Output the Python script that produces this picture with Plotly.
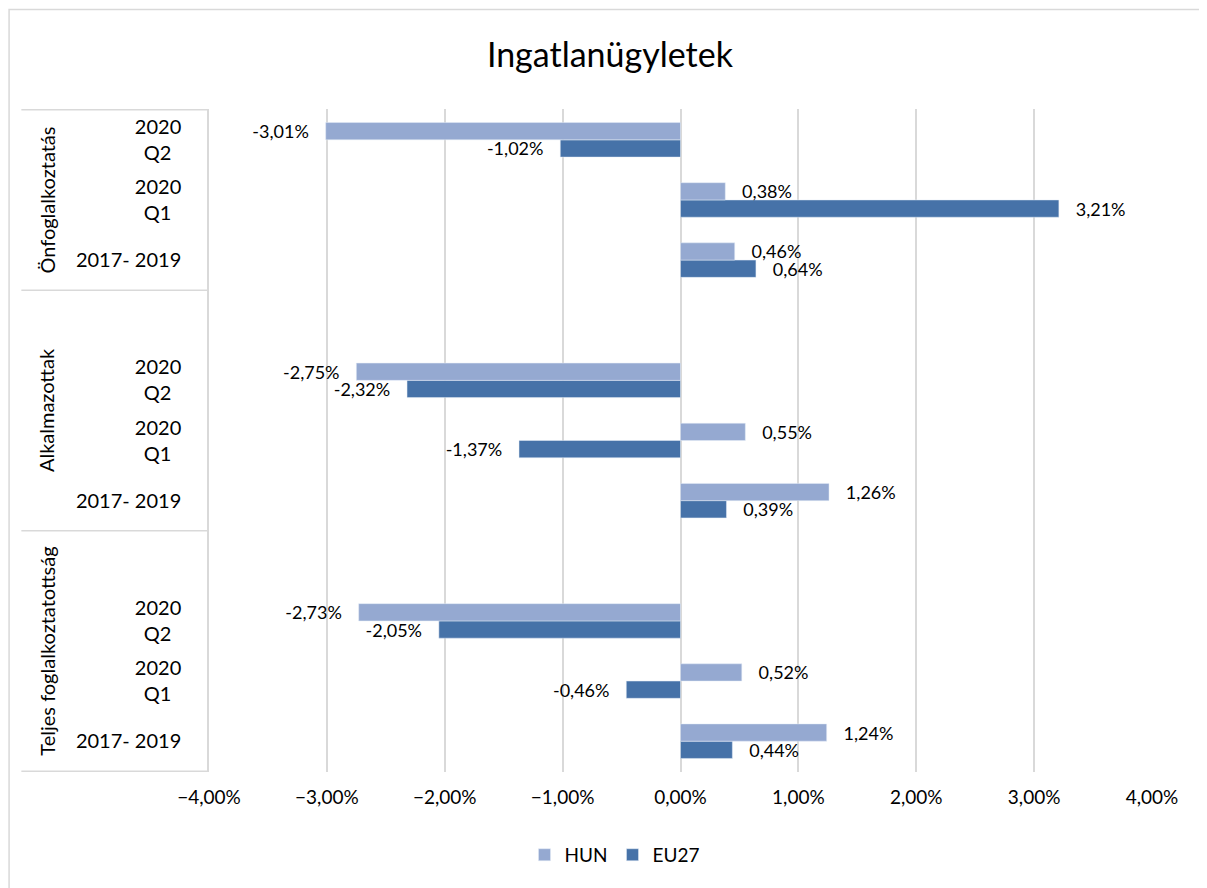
import plotly.graph_objects as go

# Categories, bottom to top (blank slots separate the groups, as in the source chart)
groups = ["Teljes foglalkoztatottság", "Alkalmazottak", "Önfoglalkoztatás"]
periods = ["2017- 2019", "2020<br>Q1\u2002", "2020<br>Q2\u2002"]

# Values in percent, per group, in the order of `periods`
hun_teljes = [1.24, 0.52, -2.73]
hun_alk = [1.26, 0.55, -2.75]
hun_onf = [0.46, 0.38, -3.01]

eu_teljes = [0.44, -0.46, -2.05]
eu_alk = [0.39, -1.37, -2.32]
eu_onf = [0.64, 3.21, -1.02]

HUN_COLOR = "#95A9D1"
EU_COLOR = "#4672A8"
GRID = "#D9D9D9"
FONT = "Lato"

# build category keys with a blank slot between groups
cats, ticktext, hun, eu = [], [], [], []
for gi, (g, h, e) in enumerate(zip(groups, [hun_teljes, hun_alk, hun_onf],
                                   [eu_teljes, eu_alk, eu_onf])):
    for p, hv, ev in zip(periods, h, e):
        cats.append(f"{g}|{p}")
        ticktext.append(p)
        hun.append(hv / 100)
        eu.append(ev / 100)
    if gi < len(groups) - 1:
        cats.append(" " * (gi + 1))
        ticktext.append("")
        hun.append(None)
        eu.append(None)

# nbsp on both sides gives the gap between bar end and label
label_tpl = "\u00a0\u00a0\u00a0%{x:.2%}\u00a0\u00a0\u00a0"

fig = go.Figure()

# EU27 first so it sits below HUN inside each group
fig.add_trace(go.Bar(
    y=cats, x=eu, name="EU27", orientation="h",
    marker=dict(color=EU_COLOR),
    texttemplate=label_tpl, textposition="outside", constraintext="none",
    textfont=dict(size=18, color="#000000"), cliponaxis=False,
))
fig.add_trace(go.Bar(
    y=cats, x=hun, name="HUN", orientation="h",
    marker=dict(color=HUN_COLOR),
    texttemplate=label_tpl, textposition="outside", constraintext="none",
    textfont=dict(size=18, color="#000000"), cliponaxis=False,
))

# group separators and the vertical group labels on the left
shapes = []
bounds = [-0.5, 3.5, 7.5, 10.5]
for b in bounds:
    shapes.append(dict(type="line", xref="paper", yref="y",
                       x0=-0.199, x1=0, y0=b, y1=b,
                       line=dict(color=GRID, width=1.5)))
# outer chart border
shapes.append(dict(type="rect", xref="paper", yref="paper",
                   x0=-0.212, x1=1.08, y0=-0.2, y1=1.15,
                   line=dict(color=GRID, width=1.5)))

annotations = []
for g, yc in zip(groups, [1.5, 5.5, 9]):
    annotations.append(dict(text=g, xref="paper", yref="y", x=-0.187, y=yc,
                            textangle=-90, showarrow=False,
                            font=dict(size=20, color="#000000")))

fig.update_layout(
    width=1199, height=880,
    title=dict(text="Ingatlanügyletek", x=0.502, xref="container",
               y=0.947, yanchor="middle",
               font=dict(size=34, color="#000000", family=FONT)),
    font=dict(family=FONT, size=19, color="#000000"),
    separators=", ",
    barmode="group", bargap=0.426, bargroupgap=0,
    plot_bgcolor="white", paper_bgcolor="white",
    margin=dict(l=201, r=55, t=101, b=116),
    legend=dict(orientation="h", traceorder="reversed",
                x=0.43, xanchor="center", y=-0.125, yanchor="middle",
                font=dict(size=19)),
    shapes=shapes,
    annotations=annotations,
)

fig.update_xaxes(
    range=[-0.04, 0.04], dtick=0.01, tickformat=".2%",
    showgrid=True, gridcolor=GRID, gridwidth=1.5,
    zeroline=False, showline=False, ticks="", ticklabelstandoff=12,
    automargin=False,
)
fig.update_yaxes(
    type="category", categoryorder="array", categoryarray=cats,
    tickvals=cats, ticktext=ticktext,
    showgrid=False, showline=True, linecolor=GRID, linewidth=1.5,
    ticks="", ticklabelstandoff=22, tickfont=dict(size=20),
    automargin=False,
)

fig.write_html("out.html")
